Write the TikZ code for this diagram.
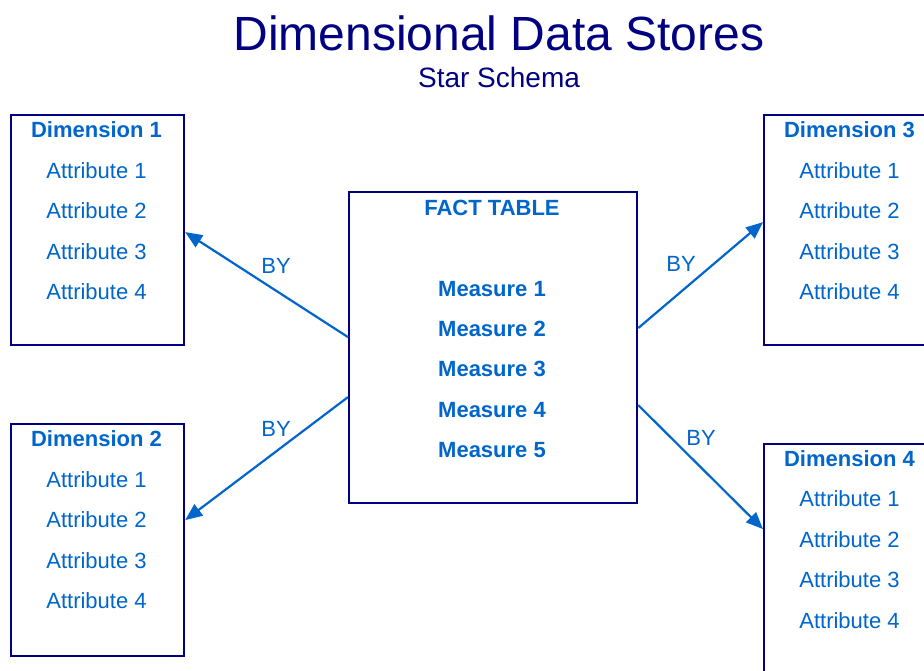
\documentclass[tikz,border=0pt]{standalone}
\usepackage{fontspec}
\setmainfont{Liberation Sans}
\usetikzlibrary{arrows.meta,calc}
\definecolor{navy}{HTML}{000080}
\definecolor{tblue}{HTML}{0066CC}
\begin{document}
\begin{tikzpicture}[x=1pt,y=-1pt,
  box/.style={draw=navy,line width=2.2pt,fill=white,anchor=north west,inner sep=0pt},
  head/.style={text=tblue,font=\fontsize{22}{26}\selectfont\bfseries,anchor=base},
  attr/.style={text=tblue,font=\fontsize{22}{26}\selectfont,anchor=base},
  lbl/.style={text=tblue,font=\fontsize{22}{26}\selectfont,anchor=base},
  link/.style={draw=tblue,line width=2.2pt,-{Triangle[length=17pt,width=14pt]}}]
\clip (0,0) rectangle (924,670);
\fill[white] (0,0) rectangle (924,670);
% title
\node[text=navy,font=\fontsize{48}{56}\selectfont,anchor=base] (title) at (499,50) {Dimensional Data Stores};
\node[text=navy,font=\fontsize{28}{32}\selectfont,anchor=base] (subtitle) at (499,87) {Star Schema};
% boxes
\node[box,minimum width=173pt,minimum height=230pt] (d1) at (10,114) {};
\node[box,minimum width=173pt,minimum height=232pt] (d2) at (10,423) {};
\node[box,minimum width=200pt,minimum height=230pt] (d3) at (763,114) {};
\node[box,minimum width=200pt,minimum height=250pt] (d4) at (763,443) {};
\node[box,minimum width=288pt,minimum height=311pt] (fact) at (348,191) {};
% dimension 1
\node[head] (d1h) at (96.5,137) {Dimension 1};
\node[attr] (d1a1) at (96.5,178) {Attribute 1};
\node[attr] (d1a2) at (96.5,218) {Attribute 2};
\node[attr] (d1a3) at (96.5,259) {Attribute 3};
\node[attr] (d1a4) at (96.5,299) {Attribute 4};
% dimension 2
\node[head] (d2h) at (96.5,446) {Dimension 2};
\node[attr] (d2a1) at (96.5,487) {Attribute 1};
\node[attr] (d2a2) at (96.5,527) {Attribute 2};
\node[attr] (d2a3) at (96.5,568) {Attribute 3};
\node[attr] (d2a4) at (96.5,608) {Attribute 4};
% dimension 3
\node[head] (d3h) at (849.5,137) {Dimension 3};
\node[attr] (d3a1) at (849.5,178) {Attribute 1};
\node[attr] (d3a2) at (849.5,218) {Attribute 2};
\node[attr] (d3a3) at (849.5,259) {Attribute 3};
\node[attr] (d3a4) at (849.5,299) {Attribute 4};
% dimension 4
\node[head] (d4h) at (849.5,466) {Dimension 4};
\node[attr] (d4a1) at (849.5,506) {Attribute 1};
\node[attr] (d4a2) at (849.5,547) {Attribute 2};
\node[attr] (d4a3) at (849.5,587) {Attribute 3};
\node[attr] (d4a4) at (849.5,628) {Attribute 4};
% fact table
\node[head] (fh) at (492,215) {FACT TABLE};
\node[head] (m1) at (492,296) {Measure 1};
\node[head] (m2) at (492,336) {Measure 2};
\node[head] (m3) at (492,376) {Measure 3};
\node[head] (m4) at (492,417) {Measure 4};
\node[head] (m5) at (492,457) {Measure 5};
% connectors
\draw[link] ([yshift=10.5pt]fact.west) -- ([yshift=-2pt]d1.east);
\draw[link] ([yshift=-49.5pt]fact.west) -- ([yshift=20pt]d2.east);
\draw[link] ([yshift=19.5pt]fact.east) -- ([yshift=8pt]d3.west);
\draw[link] ([yshift=-57.5pt]fact.east) -- ([yshift=40pt]d4.west);
% labels
\node[lbl] (by1) at (276,273) {BY};
\node[lbl] (by2) at (276,436) {BY};
\node[lbl] (by3) at (681,271) {BY};
\node[lbl] (by4) at (701,445) {BY};
\end{tikzpicture}
\end{document}
